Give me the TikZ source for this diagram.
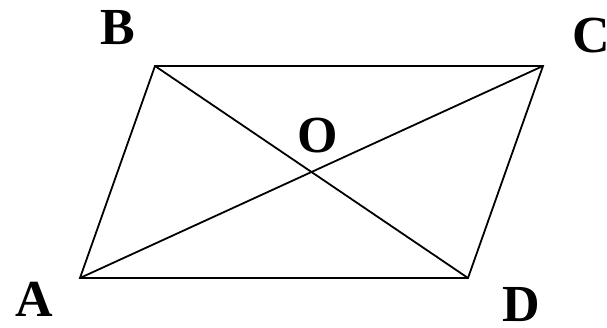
\documentclass[tikz,border=0pt]{standalone}
\usepackage{fontspec}
\setmainfont{Liberation Serif}
\begin{document}
\begin{tikzpicture}[x=1pt,y=-1pt,
  edge/.style={line width=1.8pt, line join=miter},
  lbl/.style={inner sep=0pt, font=\fontsize{52}{52}\selectfont\bfseries}]
\useasboundingbox (0,0) rectangle (607,328);
\coordinate (A) at (80,278);
\coordinate (B) at (155,66);
\coordinate (C) at (543,66);
\coordinate (D) at (468,278);
\draw[edge] (A) -- (B) -- (C) -- (D) -- cycle;
\draw[edge] (A) -- (C);
\draw[edge] (B) -- (D);
\node[lbl] (lA) at (34,299) {A};
\node[lbl] (lB) at (118,28) {B};
\node[lbl] (lC) at (591,36) {C};
\node[lbl] (lD) at (521,305) {D};
\node[lbl] (lO) at (318,136) {O};
\end{tikzpicture}
\end{document}
